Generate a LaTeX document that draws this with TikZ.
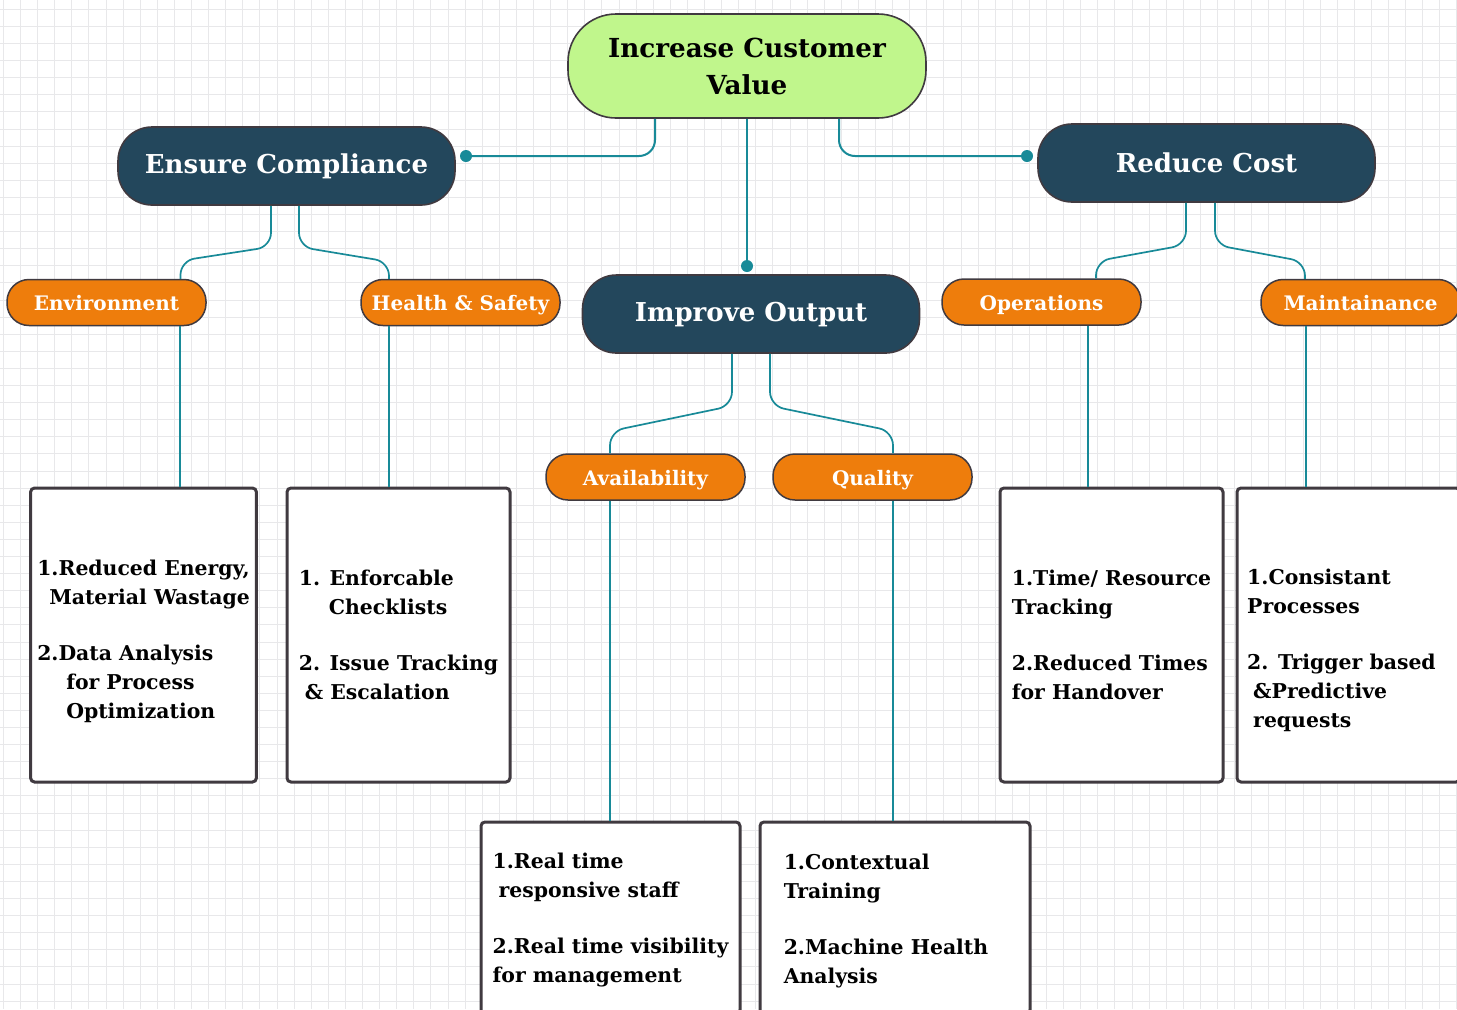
\documentclass[tikz,border=0pt]{standalone}
\usepackage{fontspec}
\setmainfont{DejaVu Serif}
\usetikzlibrary{calc}
\definecolor{topgreen}{RGB}{192,246,140}
\definecolor{darkteal}{RGB}{35,71,92}
\definecolor{orng}{RGB}{238,125,12}
\definecolor{conncol}{RGB}{24,138,152}
\definecolor{bordc}{RGB}{64,58,64}
\definecolor{gridc}{RGB}{232,232,234}
\begin{document}
\begin{tikzpicture}[x=0.5pt,y=-0.5pt,
  rootnode/.style={draw=bordc,line width=0.8pt,fill=topgreen,rounded corners=24pt,
    minimum width=179pt,minimum height=52pt,align=center,
    font=\bfseries\fontsize{13.1}{18.5}\selectfont,text=black},
  mainnode/.style={draw=bordc,line width=0.8pt,fill=darkteal,rounded corners=17pt,
    minimum width=168.5pt,minimum height=39pt,text height=9.6pt,text depth=2.4pt,
    font=\bfseries\fontsize{13}{15}\selectfont,text=white},
  subnode/.style={draw=bordc,line width=0.75pt,fill=orng,rounded corners=11pt,
    minimum width=99.5pt,minimum height=23pt,text height=9.9pt,text depth=1.8pt,
    font=\bfseries\fontsize{10}{12}\selectfont,text=white},
  textbox/.style={draw=bordc,line width=1.5pt,fill=white,rounded corners=2pt,
    minimum width=111.5pt,minimum height=147pt,align=left,
    font=\bfseries\fontsize{10.2}{14.5}\selectfont,text=black},
  conn/.style={draw=conncol,line width=1pt},
  conn2/.style={draw=conncol,line width=0.85pt,rounded corners=7pt},
  dot/.style={fill=conncol}
]
\useasboundingbox (0,0) rectangle (1457,1009);
\fill[white] (0,0) rectangle (1457,1009);
% grid
\foreach \i in {0,...,85} \draw[gridc,line width=0.5pt] ({3.4+17.1*\i},0) -- ({3.4+17.1*\i},1009);
\foreach \j in {0,...,58} \draw[gridc,line width=0.5pt] (0,{9.3+17.1*\j}) -- (1457,{9.3+17.1*\j});

% nodes
\node[rootnode] (top) at (747,66) {Increase Customer\\Value};
\node[mainnode] (ec) at (286.5,166) {Ensure Compliance};
\node[mainnode,text height=11.5pt,text depth=2.4pt] (rc) at (1206.5,163) {Reduce Cost};
\node[mainnode] (io) at (751,314) {Improve Output};

\node[subnode] (env) at (106.5,302.5) {Environment};
\node[subnode] (hs) at (460.5,302.5) {Health \& Safety};
\node[subnode] (ops) at (1041.5,302) {Operations};
\node[subnode] (mnt) at (1360.5,302.5) {Maintainance};
\node[subnode] (av) at (645.5,477) {Availability};
\node[subnode] (q) at (872.5,477) {Quality};

\node[textbox] (b1) at (143.5,635) {\rule{0pt}{13.8pt}1.Reduced Energy,\\
\hspace*{6pt}Material Wastage\\[13.5pt]
2.Data Analysis\\
\hspace*{14.5pt}for Process\\
\hspace*{14.5pt}Optimization};
\node[textbox] (b2) at (398.5,635) {1. Enforcable\\
\hspace*{15pt}Checklists\\[13.5pt]
2. Issue Tracking\\
\hspace*{3pt}\& Escalation};
\node[textbox] (b3) at (1111.5,635) {1.Time/ Resource\\
Tracking\\[13.5pt]
2.Reduced Times\\
for Handover};
\node[textbox] (b4) at (1348.5,635) {\rule{0pt}{23.5pt}1.Consistant\\
Processes\\[13.5pt]
2. Trigger based\kern7pt\\
\hspace*{3pt}\&Predictive\\
\hspace*{3pt}requests};
\node[textbox,minimum width=129.5pt,minimum height=96pt] (b5) at (610.5,918) {\rule{0pt}{10pt}1.Real time\\
\hspace*{3pt}responsive staff\\[13.5pt]
2.Real time visibility\\
for management};
\node[textbox,minimum width=135pt,minimum height=96pt] (b6) at (895,918) {\rule{0pt}{10.5pt}1.Contextual\\
Training\\[13.5pt]
2.Machine Health\kern9pt\\
Analysis};

% top-level connectors
\coordinate (ecdot) at (466,156);
\coordinate (rcdot) at (1027,156);
\coordinate (iodot) at (747,266);
\draw[conn,rounded corners=8pt] ($(top.south)+(-92,0)$) |- (ecdot);
\draw[conn,rounded corners=8pt] ($(top.south)+(92,0)$) |- (rcdot);
\draw[conn] (top.south) -- (iodot);
\fill[dot] (ecdot) circle (3pt);
\fill[dot] (rcdot) circle (3pt);
\fill[dot] (iodot) circle (3pt);

% Ensure Compliance children
\draw[conn2] ($(ec.south)+(-15.5,0)$) -- ++(0,41) -- ($(env.north)+(74,-18)$) -- ($(env.north)+(74,0)$);
\draw[conn2] ($(ec.south)+(12.5,0)$) -- ++(0,41) -- ($(hs.north)+(-71.5,-17)$) -- ($(hs.north)+(-71.5,0)$);
% Reduce Cost children
\draw[conn2] ($(rc.south)+(-20.5,0)$) -- ++(0,42) -- ($(ops.north)+(54.5,-17)$) -- ($(ops.north)+(54.5,0)$);
\draw[conn2] ($(rc.south)+(8.5,0)$) -- ++(0,42) -- ($(mnt.north)+(-55.5,-17)$) -- ($(mnt.north)+(-55.5,0)$);
% Improve Output children
\draw[conn2] ($(io.south)+(-19,0)$) -- ++(0,52) -- ($(av.north)+(-35.5,-22)$) -- ($(av.north)+(-35.5,0)$);
\draw[conn2] ($(io.south)+(19,0)$) -- ++(0,52) -- ($(q.north)+(20.5,-22)$) -- ($(q.north)+(20.5,0)$);

% leaf connectors
\coordinate (l1) at ($(env.south)+(73,0)$);
\coordinate (l2) at ($(hs.south)+(-71.5,0)$);
\coordinate (l3) at ($(ops.south)+(46.5,0)$);
\coordinate (l4) at ($(mnt.south)+(-54.5,0)$);
\coordinate (l5) at ($(av.south)+(-35.5,0)$);
\coordinate (l6) at ($(q.south)+(20.5,0)$);
\draw[conn] (l1) -- (l1 |- b1.north);
\draw[conn] (l2) -- (l2 |- b2.north);
\draw[conn] (l3) -- (l3 |- b3.north);
\draw[conn] (l4) -- (l4 |- b4.north);
\draw[conn] (l5) -- (l5 |- b5.north);
\draw[conn] (l6) -- (l6 |- b6.north);
\end{tikzpicture}
\end{document}
